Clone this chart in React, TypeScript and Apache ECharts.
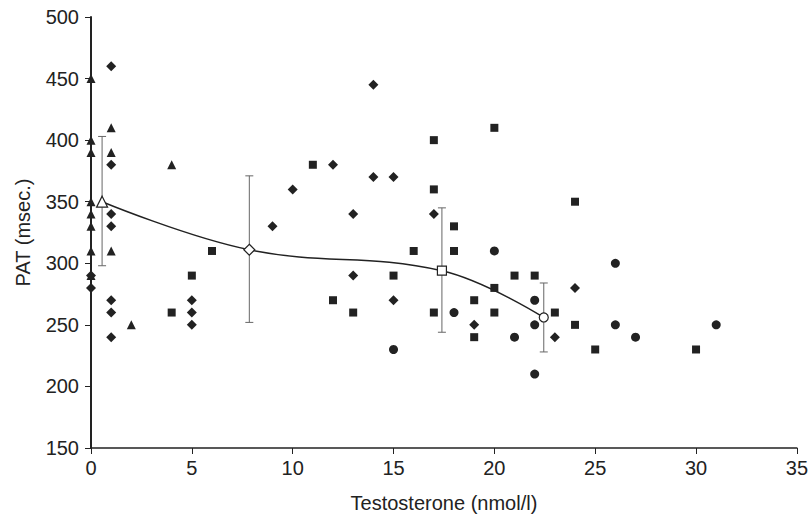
import React, { useEffect, useRef } from "react";
import * as echarts from "echarts";

const xTicks = { min: 0, max: 35, interval: 5 };
const yTicks = { min: 150, max: 500, interval: 50 };

const triangles: number[][] = [
  [0, 450], [0, 400], [0, 390], [0, 350], [0, 340], [0, 330], [0, 310], [0, 290],
  [1, 410], [1, 390], [1, 310], [2, 250], [4, 380],
];
const diamonds: number[][] = [
  [0, 290], [0, 280], [1, 460], [1, 380], [1, 340], [1, 330], [1, 270], [1, 260], [1, 240],
  [5, 270], [5, 260], [5, 250], [9, 330], [10, 360], [12, 380], [13, 340], [13, 290],
  [14, 445], [14, 370], [15, 370], [15, 270], [17, 340], [19, 250], [23, 240], [24, 280],
];
const squares: number[][] = [
  [4, 260], [5, 290], [6, 310], [11, 380], [12, 270], [13, 260], [15, 290], [16, 310],
  [17, 400], [17, 360], [17, 260], [18, 330], [18, 310], [19, 270], [19, 240], [20, 410],
  [20, 280], [20, 260], [21, 290], [22, 290], [23, 260], [24, 350], [24, 250], [25, 230], [30, 230],
];
const circles: number[][] = [
  [15, 230], [18, 260], [20, 310], [21, 240], [22, 270], [22, 250], [22, 210],
  [26, 300], [26, 250], [27, 240], [31, 250],
];

const meanX = [0.55, 7.85, 17.4, 22.45];
const meanY = [350, 311, 294, 256];
const errLow = [298, 252, 244, 228];
const errHigh = [403, 371, 345, 284];
const meanSymbols = ["triangle", "diamond", "rect", "circle"];
const meanSizes = [11, 11, 9, 9];

const ink = "#222";
const font = "Liberation Sans, Arial, sans-serif";

export default function App() {
  const ref = useRef<HTMLDivElement>(null);
  useEffect(() => {
    if (!ref.current) return;
    const chart = echarts.init(ref.current, null, { renderer: "svg" });
    const scatter = (name: string, data: number[][], symbol: string, size: number) => ({
      name,
      type: "scatter",
      data,
      symbol,
      symbolSize: size,
      itemStyle: { color: ink, opacity: 1 },
      z: 3,
    });
    chart.setOption({
      animation: false,
      backgroundColor: "#fff",
      grid: { left: 91, right: 13, top: 17, bottom: 73 },
      xAxis: {
        type: "value",
        min: xTicks.min,
        max: xTicks.max,
        interval: xTicks.interval,
        name: "Testosterone (nmol/l)",
        nameLocation: "middle",
        nameGap: 45,
        nameTextStyle: { color: ink, fontSize: 20, fontFamily: font },
        axisLine: { lineStyle: { color: ink, width: 1.5 } },
        axisTick: { show: true, length: 6, lineStyle: { color: ink, width: 1 } },
        axisLabel: { color: ink, fontSize: 20, fontFamily: font, margin: 10 },
        splitLine: { show: false },
      },
      yAxis: {
        type: "value",
        min: yTicks.min,
        max: yTicks.max,
        interval: yTicks.interval,
        name: "PAT (msec.)",
        nameLocation: "middle",
        nameGap: 58,
        nameTextStyle: { color: ink, fontSize: 20, fontFamily: font },
        axisLine: { show: true, lineStyle: { color: ink, width: 2 } },
        axisTick: { show: true, length: 6, lineStyle: { color: ink, width: 1 } },
        axisLabel: { color: ink, fontSize: 20, fontFamily: font, margin: 12 },
        splitLine: { show: false },
      },
      series: [
        {
          type: "custom",
          z: 2,
          data: meanX.map((x, i) => [x, errLow[i], errHigh[i]]),
          renderItem: (params: any, api: any) => {
            const x = api.value(0);
            const top = api.coord([x, api.value(2)]);
            const bot = api.coord([x, api.value(1)]);
            const w = 4;
            const st = { stroke: "#666", lineWidth: 1 };
            return {
              type: "group",
              children: [
                { type: "line", shape: { x1: top[0], y1: top[1], x2: bot[0], y2: bot[1] }, style: st },
                { type: "line", shape: { x1: top[0] - w, y1: top[1], x2: top[0] + w, y2: top[1] }, style: st },
                { type: "line", shape: { x1: bot[0] - w, y1: bot[1], x2: bot[0] + w, y2: bot[1] }, style: st },
              ],
            };
          },
        },
        scatter("triangles", triangles, "triangle", 9),
        scatter("diamonds", diamonds, "diamond", 10),
        scatter("squares", squares, "rect", 8),
        scatter("circles", circles, "circle", 9),
        {
          type: "line",
          z: 5,
          smooth: 0.4,
          data: meanX.map((x, i) => ({
            value: [x, meanY[i]],
            symbol: meanSymbols[i],
            symbolSize: meanSizes[i],
          })),
          lineStyle: { color: ink, width: 1.5 },
          itemStyle: { color: "#fff", borderColor: ink, borderWidth: 1.2 },
          showAllSymbol: true,
        },
      ],
    });
    return () => chart.dispose();
  }, []);
  return <div ref={ref} style={{ width: 811, height: 521, position: "absolute", left: 0, top: 0 }} />;
}
